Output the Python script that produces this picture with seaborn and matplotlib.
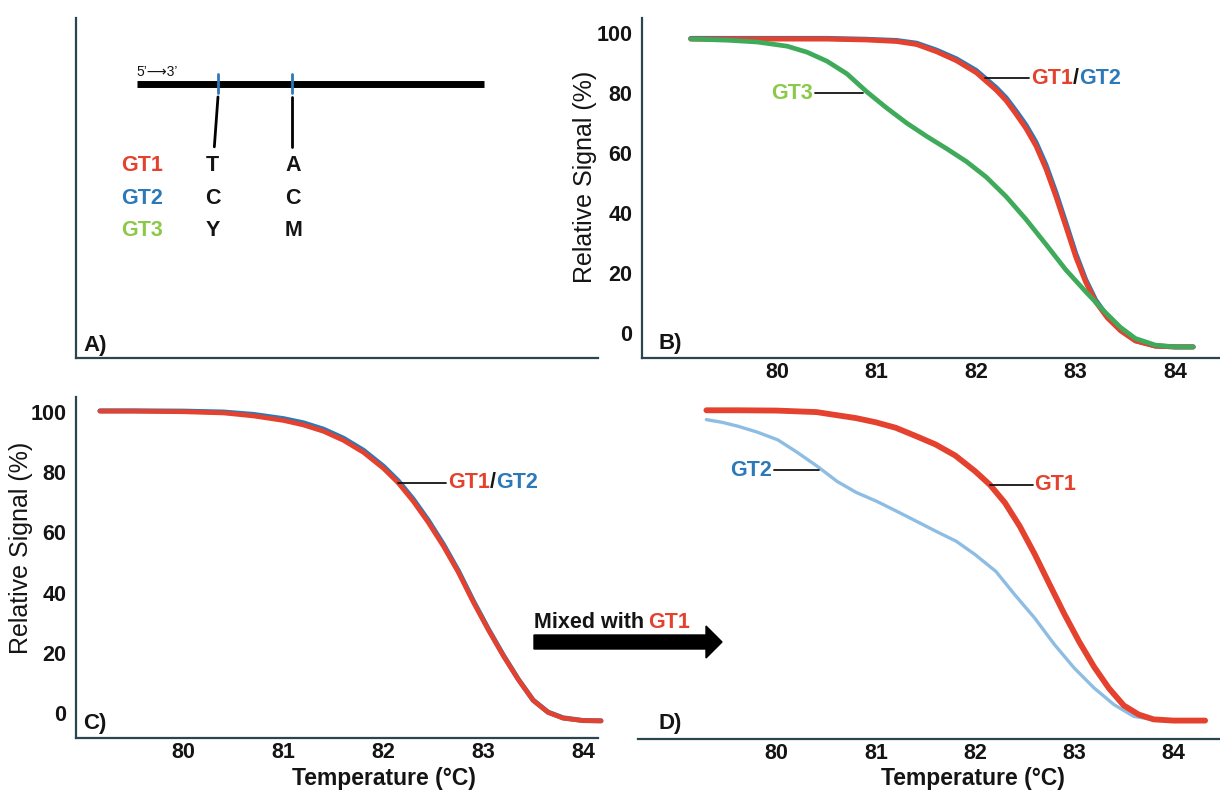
import matplotlib
matplotlib.use("Agg")
import matplotlib.pyplot as plt
import seaborn as sns
from matplotlib.patches import FancyArrow
from matplotlib.transforms import IdentityTransform

# ---------------- data ----------------
# Panel B: GT1 / GT2 (overlapping) and GT3
b_temp_gt12 = [79.13, 79.5, 80.0, 80.5, 80.9, 81.2, 81.4, 81.6, 81.8, 82.0, 82.2, 82.3, 82.4,
               82.5, 82.6, 82.7, 82.8, 82.9, 83.0, 83.1, 83.2, 83.32, 83.45, 83.6, 83.8, 84.0, 84.18]
b_gt1 = [98.0, 98.0, 98.0, 98.0, 97.7, 97.2, 96.2, 93.8, 90.8, 86.8, 81.0, 77.5, 73.0,
         68.2, 62.4, 54.8, 45.6, 35.6, 25.4, 17.0, 10.4, 5.0, 0.8, -2.6, -4.3, -4.6, -4.6]
b_gt2 = [98.2, 98.2, 98.2, 98.2, 97.9, 97.5, 96.6, 94.3, 91.4, 87.5, 81.8, 78.4, 74.0,
         69.3, 63.6, 56.1, 46.9, 36.8, 26.5, 17.8, 11.0, 5.4, 1.0, -2.5, -4.3, -4.6, -4.6]
b_temp_gt3 = [79.13, 79.5, 79.8, 80.1, 80.3, 80.5, 80.7, 80.9, 81.1, 81.3, 81.5, 81.7, 81.9,
              82.1, 82.3, 82.5, 82.7, 82.9, 83.1, 83.3, 83.45, 83.6, 83.8, 84.0, 84.18]
b_gt3 = [98.0, 97.6, 97.0, 95.6, 93.6, 90.6, 86.4, 80.4, 75.0, 70.0, 65.6, 61.5, 57.2,
         52.0, 45.5, 37.9, 29.6, 21.1, 13.8, 6.8, 1.9, -1.8, -4.0, -4.6, -4.6]

# Panel C: GT1 / GT2 (overlapping)
c_temp = [79.16, 79.5, 80.0, 80.4, 80.7, 81.0, 81.2, 81.4, 81.6, 81.8, 82.0, 82.15, 82.3,
          82.45, 82.6, 82.75, 82.9, 83.05, 83.2, 83.35, 83.5, 83.65, 83.8, 84.0, 84.18]
c_gt1 = [100.3, 100.3, 100.1, 99.7, 98.7, 97.2, 95.7, 93.6, 90.6, 86.6, 81.3, 76.4, 70.3,
         63.3, 55.5, 46.8, 36.9, 27.7, 19.1, 11.2, 4.2, 0.2, -1.7, -2.5, -2.6]
c_gt2 = [100.4, 100.4, 100.3, 100.0, 99.2, 97.8, 96.4, 94.3, 91.3, 87.3, 82.0, 77.1, 71.0,
         64.0, 56.1, 47.3, 37.3, 28.0, 19.3, 11.3, 4.3, 0.3, -1.6, -2.5, -2.6]

# Panel D: GT1 and GT2 mixed with GT1
d_temp_gt1 = [79.29, 79.6, 80.0, 80.4, 80.8, 81.0, 81.2, 81.4, 81.6, 81.8, 82.0, 82.15, 82.3,
              82.45, 82.6, 82.75, 82.9, 83.05, 83.2, 83.35, 83.5, 83.65, 83.8, 84.0, 84.32]
d_gt1 = [100.6, 100.6, 100.5, 100.0, 98.0, 96.6, 94.8, 92.1, 89.3, 85.6, 80.4, 75.9, 70.0,
         62.2, 53.0, 43.0, 33.1, 23.9, 15.6, 8.5, 2.8, -0.2, -1.8, -2.2, -2.2]
d_temp_gt2 = [79.29, 79.45, 79.61, 79.8, 80.01, 80.2, 80.41, 80.61, 80.8, 81.01, 81.2, 81.41, 81.6,
              81.81, 82.0, 82.21, 82.4, 82.6, 82.8, 83.0, 83.2, 83.4, 83.6, 83.8, 84.0, 84.32]
d_gt2 = [97.5, 96.6, 95.3, 93.4, 90.8, 86.8, 82.0, 77.0, 73.4, 70.4, 67.3, 63.8, 60.6,
         57.2, 52.8, 47.2, 39.5, 31.8, 23.0, 15.2, 8.6, 3.1, -0.8, -1.9, -2.2, -2.2]

x_ticks = [80, 81, 82, 83, 84]
y_ticks = [0, 20, 40, 60, 80, 100]

# Panel A schematic
genotypes = ["GT1", "GT2", "GT3"]
snp1_bases = ["T", "C", "Y"]
snp2_bases = ["A", "C", "M"]

# ---------------- style ----------------
sns.set_theme(style="white")
plt.rcParams['font.family'] = ['Liberation Sans', 'DejaVu Sans']
plt.rcParams['axes.facecolor'] = 'white'
plt.rcParams['figure.facecolor'] = 'white'

RED = "#e4412e"
BLUE = "#2b79b8"
LIGHTBLUE = "#8ebde4"
GREEN = "#3fab5a"
GREEN_TXT = "#8cc84a"
SPINE = "#2b4550"
TXT = "#141414"
FS = 15.5
LINE_KW = dict(estimator=None, sort=False, solid_joinstyle="round", solid_capstyle="round")

W, H = 1220, 791
fig = plt.figure(figsize=(W / 100, H / 100), dpi=100)


def px_axes(x0, y0, x1, y1):
    return fig.add_axes([x0 / W, 1 - y1 / H, (x1 - x0) / W, (y1 - y0) / H])


axA = px_axes(76, 18, 598, 358)
axB = px_axes(642, 18, 1220, 358)
axC = px_axes(76, 397, 598, 738)
axD = px_axes(638, 397, 1220, 739)


def style_axis(ax, left=True):
    for s in ["top", "right"]:
        ax.spines[s].set_visible(False)
    ax.spines["bottom"].set_color(SPINE)
    ax.spines["bottom"].set_linewidth(1.6)
    if left:
        ax.spines["left"].set_color(SPINE)
        ax.spines["left"].set_linewidth(1.6)
    else:
        ax.spines["left"].set_visible(False)
    ax.tick_params(axis="both", direction="in", length=8, width=1.2, color=SPINE,
                   labelsize=FS, labelcolor=TXT)
    ax.tick_params(axis="x", pad=3)
    ax.tick_params(axis="y", pad=7)
    for lab in ax.get_xticklabels() + ax.get_yticklabels():
        lab.set_fontweight("bold")


def multicolor_label(ax, x, y, parts, ha="left"):
    first = ax.text(x, y, parts[0][0], color=parts[0][1], fontsize=FS, fontweight="bold",
                    ha=ha, va="center")
    prev = first
    for txt, col in parts[1:]:
        prev = ax.annotate(txt, xy=(1, 0), xycoords=prev, color=col, fontsize=FS,
                           fontweight="bold", ha="left", va="bottom")
    return first


def connector(ax, x0, x1, y):
    ax.plot([x0, x1], [y, y], color=TXT, lw=1.3)


# ---------------- Panel A ----------------
for s in ["top", "right"]:
    axA.spines[s].set_visible(False)
for s in ["left", "bottom"]:
    axA.spines[s].set_color(SPINE)
    axA.spines[s].set_linewidth(1.6)
axA.set_xlim(0, 1)
axA.set_ylim(0, 1)
axA.set_xticks([])
axA.set_yticks([])
axA.plot([0.117, 0.782], [0.806, 0.806], color="black", lw=5, solid_capstyle="butt")
for xs in [0.272, 0.414]:
    axA.plot([xs, xs], [0.778, 0.835], color=BLUE, lw=2)
axA.text(0.115, 0.822, "5’⟶3’", fontsize=10, color=TXT, ha="left", va="bottom")
axA.plot([0.272, 0.265], [0.768, 0.621], color="black", lw=2)
axA.plot([0.414, 0.414], [0.768, 0.621], color="black", lw=2)
gt_colors = [RED, BLUE, GREEN_TXT]
row_y = [0.566, 0.468, 0.376]
for g, b1, b2, col, yy in zip(genotypes, snp1_bases, snp2_bases, gt_colors, row_y):
    axA.text(0.126, yy, g, color=col, fontsize=FS, fontweight="bold", ha="center", va="center")
    axA.text(0.262, yy, b1, color=TXT, fontsize=FS, fontweight="bold", ha="center", va="center")
    axA.text(0.416, yy, b2, color=TXT, fontsize=FS, fontweight="bold", ha="center", va="center")

# ---------------- Panel B ----------------
sns.lineplot(x=b_temp_gt12, y=b_gt2, ax=axB, color=BLUE, linewidth=3.6, **LINE_KW)
sns.lineplot(x=b_temp_gt12, y=b_gt1, ax=axB, color=RED, linewidth=3.6, **LINE_KW)
sns.lineplot(x=b_temp_gt3, y=b_gt3, ax=axB, color=GREEN, linewidth=3.4, **LINE_KW)
axB.set_xlim(78.64, 84.45)
axB.set_ylim(-8.3, 105)
axB.set_xticks(x_ticks)
axB.set_yticks(y_ticks)
axB.set_xlabel("")
axB.set_ylabel("Relative Signal (%)", fontsize=18, color=TXT)
style_axis(axB)
axB.yaxis.set_label_coords(-0.078, 0.532)
connector(axB, 82.09, 82.53, 85.0)
multicolor_label(axB, 82.55, 85.0, [("GT1", RED), ("/", TXT), ("GT2", BLUE)])
connector(axB, 80.38, 80.86, 80.0)
axB.text(80.36, 80.0, "GT3", color=GREEN_TXT, fontsize=FS, fontweight="bold", ha="right", va="center")

# ---------------- Panel C ----------------
sns.lineplot(x=c_temp, y=c_gt2, ax=axC, color=BLUE, linewidth=3.6, **LINE_KW)
sns.lineplot(x=c_temp, y=c_gt1, ax=axC, color=RED, linewidth=3.4, **LINE_KW)
for ln in axC.lines:
    ln.set_clip_on(False)
axC.set_xlim(78.92, 84.15)
axC.set_ylim(-8.3, 105)
axC.set_xticks(x_ticks)
axC.set_yticks(y_ticks)
axC.set_xlabel("Temperature (°C)", fontsize=16.5, fontweight="bold", color=TXT)
axC.set_ylabel("Relative Signal (%)", fontsize=18, color=TXT)
style_axis(axC)
axC.yaxis.set_label_coords(-0.082, 0.557)
axC.xaxis.set_label_coords(0.59, -0.085)
connector(axC, 82.15, 82.63, 76.5)
multicolor_label(axC, 82.65, 76.5, [("GT1", RED), ("/", TXT), ("GT2", BLUE)])

# ---------------- Panel D ----------------
sns.lineplot(x=d_temp_gt2, y=d_gt2, ax=axD, color=LIGHTBLUE, linewidth=2.4, **LINE_KW)
sns.lineplot(x=d_temp_gt1, y=d_gt1, ax=axD, color=RED, linewidth=4.2, **LINE_KW)
axD.set_xlim(78.6, 84.47)
axD.set_ylim(-8.3, 105)
axD.set_xticks(x_ticks)
axD.set_yticks([])
axD.set_ylabel("")
axD.set_xlabel("Temperature (°C)", fontsize=16.5, fontweight="bold", color=TXT)
style_axis(axD, left=False)
axD.xaxis.set_label_coords(0.576, -0.082)
connector(axD, 82.15, 82.58, 75.9)
axD.text(82.6, 75.9, "GT1", color=RED, fontsize=FS, fontweight="bold", ha="left", va="center")
connector(axD, 79.97, 80.43, 80.8)
axD.text(79.95, 80.8, "GT2", color=BLUE, fontsize=FS, fontweight="bold", ha="right", va="center")

# ---------------- panel letters ----------------
for lab, (px, py) in zip(["A)", "B)", "C)", "D)"], [(95, 345), (670, 343), (95, 723), (670, 724)]):
    fig.text(px / W, 1 - py / H, lab, fontsize=16, fontweight="bold", color=TXT,
             ha="center", va="center")

# ---------------- "Mixed with GT1" arrow ----------------
mix = fig.text(534 / W, 1 - 622 / H, "Mixed with", fontsize=FS, fontweight="bold",
               color=TXT, ha="left", va="center")
fig.add_artist(plt.Annotation("GT1", xy=(1, 0), xycoords=mix, xytext=(3, 0),
                              textcoords="offset points", color=RED, fontsize=FS,
                              fontweight="bold", ha="left", va="bottom"))
fig.add_artist(FancyArrow(534, H - 642, 188, 0, width=14, head_width=32, head_length=16,
                          length_includes_head=True, color="black",
                          transform=IdentityTransform()))

fig.savefig("out.png", dpi=100, facecolor="white")
